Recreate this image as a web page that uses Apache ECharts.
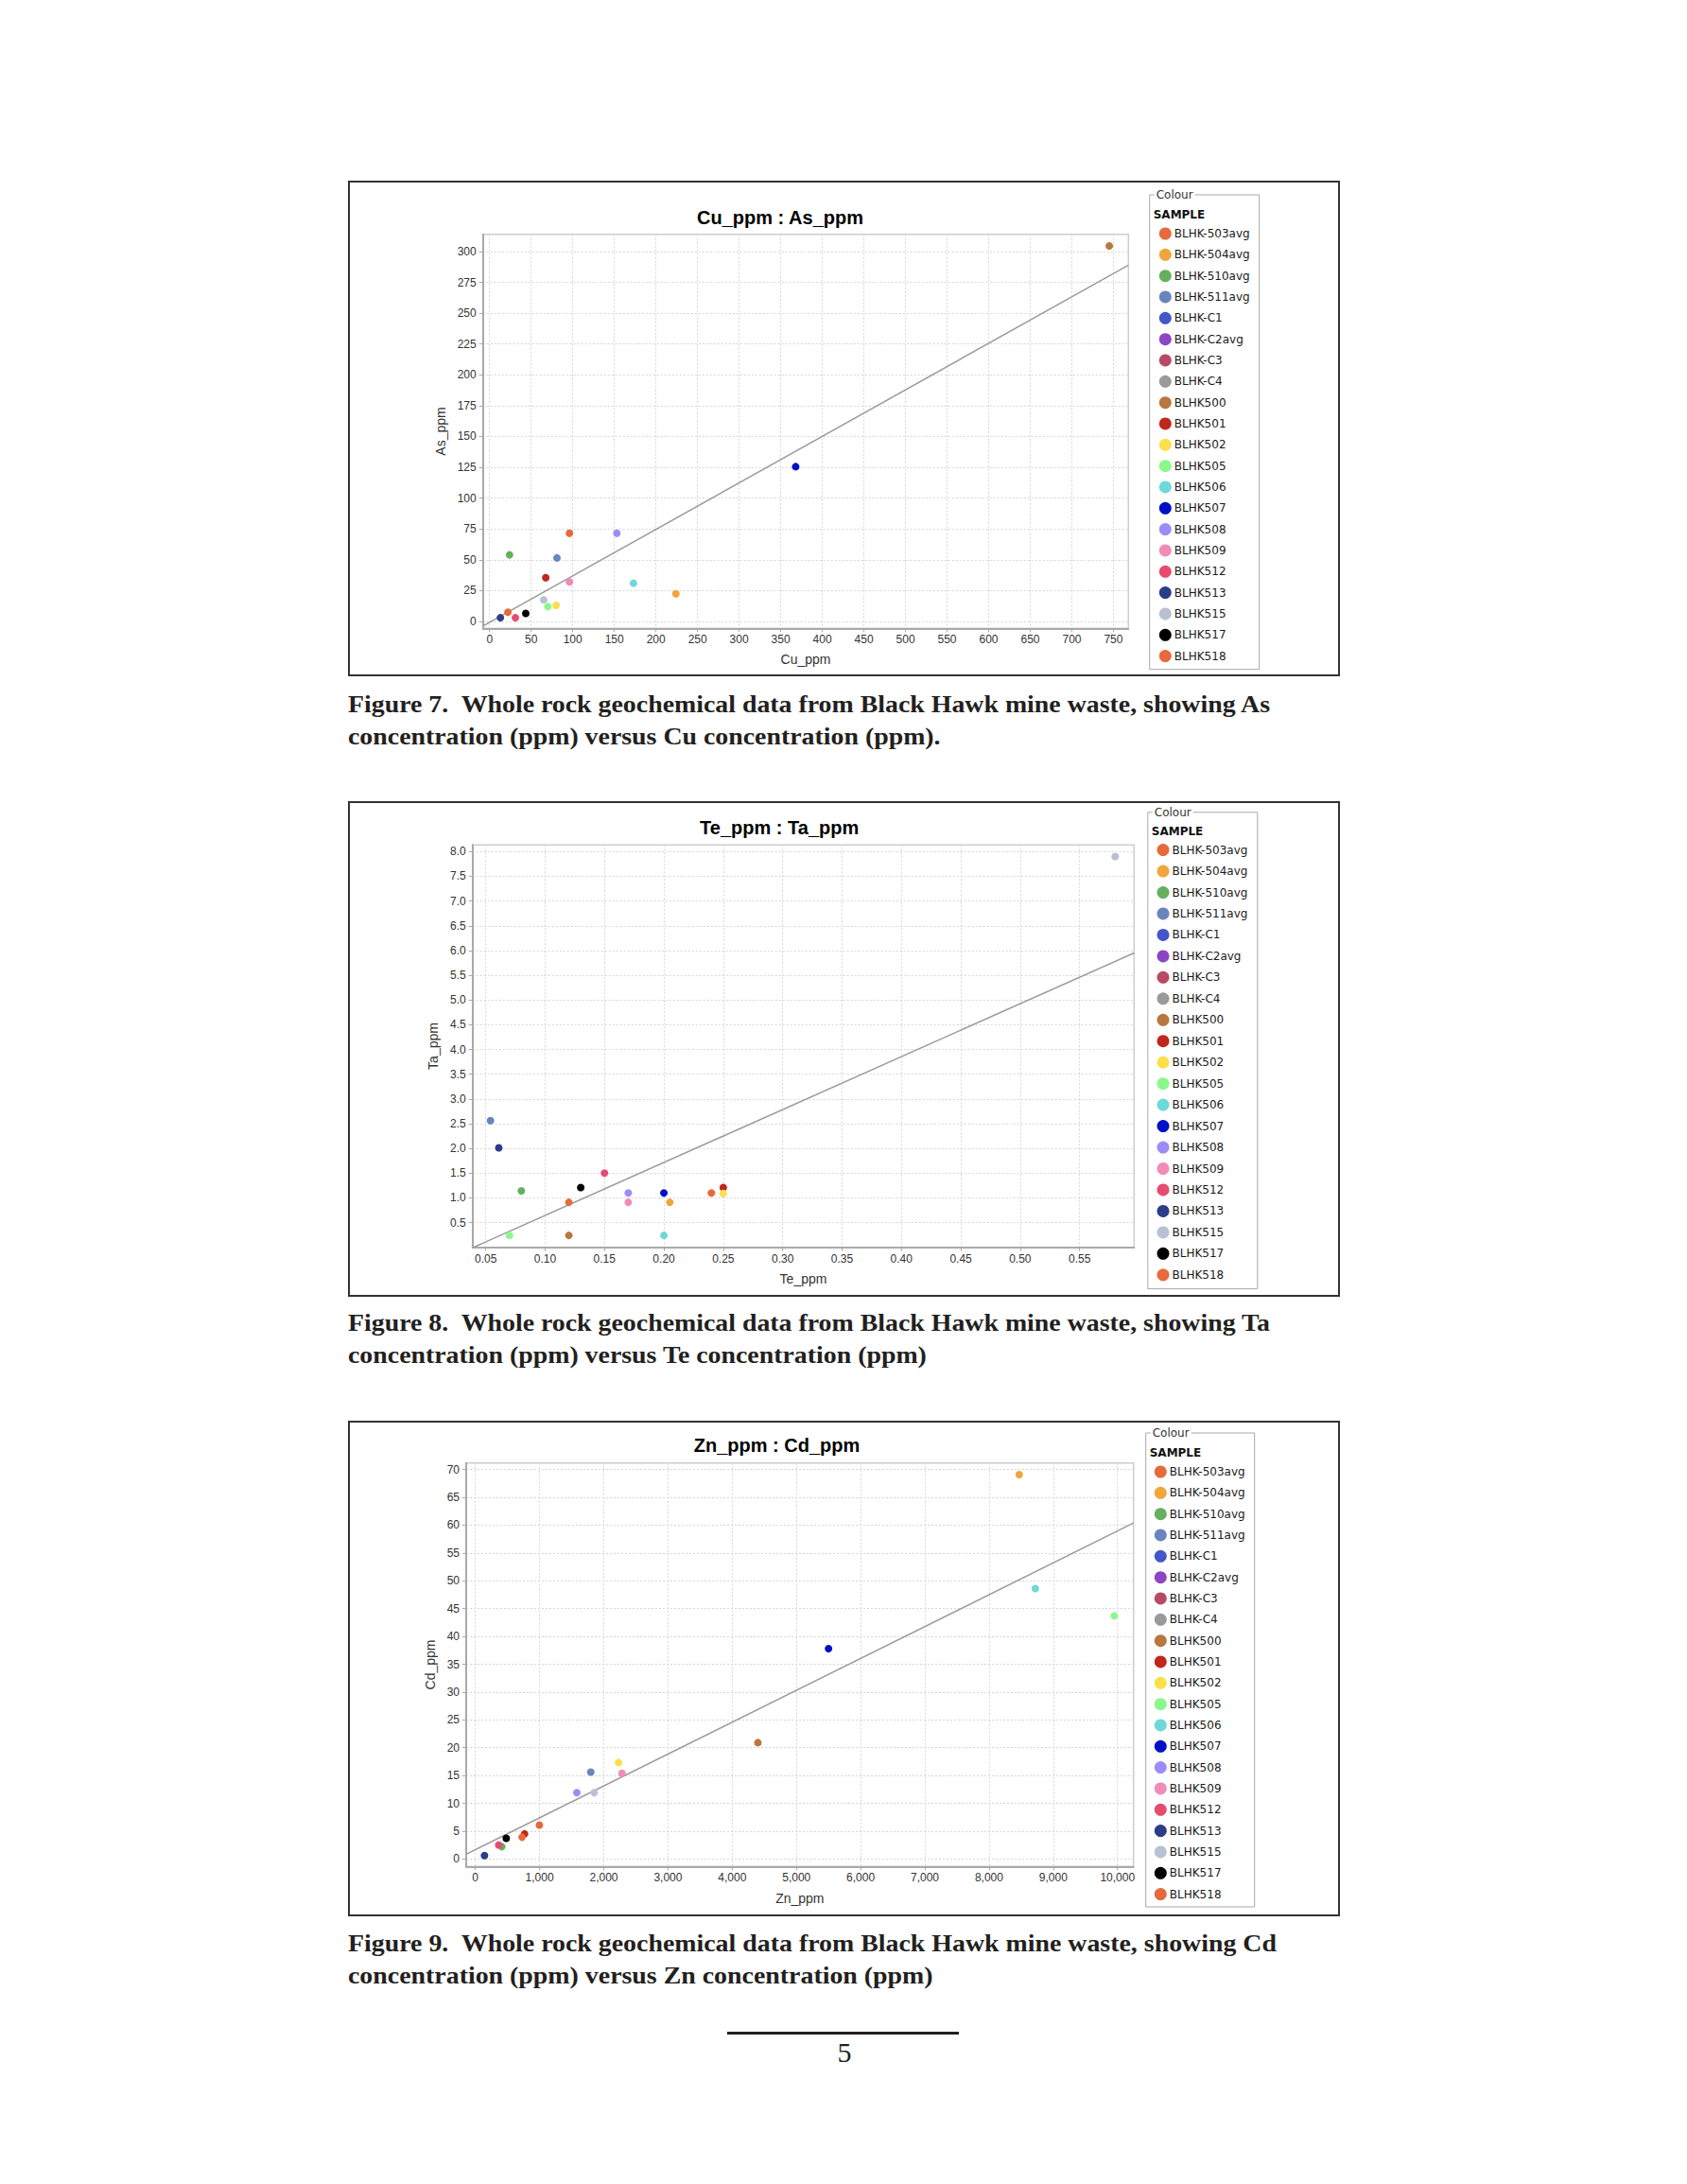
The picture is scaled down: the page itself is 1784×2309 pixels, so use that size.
<!DOCTYPE html>
<html><head><meta charset="utf-8">
<script src="https://cdn.jsdelivr.net/npm/echarts@6/dist/echarts.min.js"></script>
<style>
html,body{margin:0;padding:0;background:#fff}
body{width:1784px;height:2309px;position:relative;overflow:hidden}
.chart{position:absolute;left:368px;width:1049px;height:524px}
.box{position:absolute;left:368px;width:1049px;height:524px;box-sizing:border-box;border:2px solid #333;pointer-events:none}
.cap{position:absolute;left:368px;font-family:"Liberation Serif","DejaVu Serif",serif;font-weight:bold;font-size:25px;line-height:34px;white-space:nowrap;color:#231f20;transform-origin:0 50%}
#rule{position:absolute;left:769px;top:2148px;width:245px;height:3px;background:#231f20}
#pno{position:absolute;left:843px;width:100px;top:2152px;text-align:center;font-family:"Liberation Serif",serif;font-size:30px;line-height:36px;color:#231f20}
</style></head><body>
<div id="c1" class="chart" style="top:191px"></div><div class="box" style="top:191px"></div>
<div id="c2" class="chart" style="top:847px"></div><div class="box" style="top:847px"></div>
<div id="c3" class="chart" style="top:1502px"></div><div class="box" style="top:1502px"></div>

<div class="cap" id="f7a" style="top:728px">Figure 7.&nbsp; Whole rock geochemical data from Black Hawk mine waste, showing As</div>
<div class="cap" id="f7b" style="top:762px">concentration (ppm) versus Cu concentration (ppm).</div>
<div class="cap" id="f8a" style="top:1382px">Figure 8.&nbsp; Whole rock geochemical data from Black Hawk mine waste, showing Ta</div>
<div class="cap" id="f8b" style="top:1416px">concentration (ppm) versus Te concentration (ppm)</div>
<div class="cap" id="f9a" style="top:2038px">Figure 9.&nbsp; Whole rock geochemical data from Black Hawk mine waste, showing Cd</div>
<div class="cap" id="f9b" style="top:2072px">concentration (ppm) versus Zn concentration (ppm)</div>
<div id="rule"></div><div id="pno">5</div>

<script>
// ---- samples / legend ----
const samples = ['BLHK-503avg','BLHK-504avg','BLHK-510avg','BLHK-511avg','BLHK-C1','BLHK-C2avg','BLHK-C3','BLHK-C4','BLHK500','BLHK501','BLHK502','BLHK505','BLHK506','BLHK507','BLHK508','BLHK509','BLHK512','BLHK513','BLHK515','BLHK517','BLHK518'];
const sampleColours = ['#e66a3c','#f0a63c','#64b05e','#6a84c0','#4457c8','#8d45c4','#b84a66','#9a9a9a','#b8773f','#c0261c','#fbe04c','#8cf88c','#6ed8d8','#0010c8','#9c8cf8','#f08cb8','#e84a70','#2b3c88','#b8c0d4','#000000','#e66a3c'];

// ---- Figure 7: Cu vs As ----
const cuPpm = [96, 224, 24, 81, null, null, null, null, 745, 67.5, 80, 70, 173, 368, 153, 96, 31, 13, 65, 43.5, 22];
const asPpm = [71.5, 22.5, 54, 51.5, null, null, null, null, 304.5, 35.5, 13, 12, 31, 125.5, 71.5, 32, 3, 3, 17.5, 6.5, 7.5];
const cuTicks = [0,50,100,150,200,250,300,350,400,450,500,550,600,650,700,750];
const asTicks = [0,25,50,75,100,125,150,175,200,225,250,275,300];
const cuRange = [-8, 768];
const asRange = [-5.6, 314];
const fit7X = [-8, 768];
const fit7Y = [-3.8, 289.0];

// ---- Figure 8: Te vs Ta ----
const tePpm = [0.24, 0.205, 0.08, 0.054, null, null, null, null, 0.12, 0.25, 0.25, 0.07, 0.20, 0.20, 0.17, 0.17, 0.15, 0.061, 0.58, 0.13, 0.12];
const taPpm = [1.10, 0.91, 1.14, 2.56, null, null, null, null, 0.24, 1.21, 1.09, 0.24, 0.24, 1.10, 1.10, 0.91, 1.50, 2.01, 7.90, 1.21, 0.91];
const teTicks = [0.05,0.10,0.15,0.20,0.25,0.30,0.35,0.40,0.45,0.50,0.55];
const taTicks = [0.5,1.0,1.5,2.0,2.5,3.0,3.5,4.0,4.5,5.0,5.5,6.0,6.5,7.0,7.5,8.0];
const teRange = [0.0389, 0.5959];
const taRange = [0, 8.134];
const fit8X = [0.0397, 0.5959];
const fit8Y = [0, 5.95];

// ---- Figure 9: Zn vs Cd ----
const znPpm = [997, 8470, 412, 1797, null, null, null, null, 4400, 766, 2230, 9950, 8720, 5500, 1580, 2283, 363, 142, 1850, 481, 727];
const cdPpm = [6.1, 69.1, 2.2, 15.6, null, null, null, null, 20.9, 4.5, 17.3, 43.7, 48.6, 37.8, 11.9, 15.4, 2.5, 0.6, 11.9, 3.7, 3.9];
const znTicks = [0,1000,2000,3000,4000,5000,6000,7000,8000,9000,10000];
const cdTicks = [0,5,10,15,20,25,30,35,40,45,50,55,60,65,70];
const znRange = [-143, 10250];
const cdRange = [-1.36, 71.19];
const fit9X = [-143, 10250];
const fit9Y = [0.85, 60.4];

const SANS = '"Liberation Sans", Arial, sans-serif';
const LEG = '"DejaVu Sans", sans-serif';

function axis(cfg, which){
  const isX = which === 'x';
  return {
    type:'value',
    min: cfg.range[0], max: cfg.range[1],
    name: cfg.name, nameLocation:'middle', nameGap: cfg.nameGap,
    nameTextStyle:{fontSize:14, color:'#333', fontFamily:SANS},
    axisLine:{show:true, onZero:false, lineStyle:{color:'#a9a9a9', width:2}},
    axisTick:{show:true, length:4, customValues:cfg.ticks, lineStyle:{color:'#a9a9a9', width:1}},
    axisLabel:{customValues:cfg.ticks, formatter:cfg.fmt, fontSize:12, color:'#333', fontFamily:SANS, margin: isX ? 6 : 7},
    splitLine:{show:true, lineStyle:{color:'#d6d6d6', width:1, type:[2,2]}}
  };
}

function build(id, c){
  const chart = echarts.init(document.getElementById(id), null, {renderer:'svg'});
  const series = [{
    type:'line', name:'fit', silent:true, symbol:'none', z:2,
    data: c.fitX.map((x,k)=>[x, c.fitY[k]]),
    lineStyle:{color:'#9b9b9b', width:1.5}, animation:false
  }];
  samples.forEach((name,i)=>{
    series.push({
      type:'scatter', name, symbol:'circle', symbolSize:8, z:3,
      itemStyle:{color:sampleColours[i], opacity:1},
      data: c.xs[i]==null ? [] : [[c.xs[i], c.ys[i]]],
      animation:false
    });
  });
  const L = c.leg;
  chart.setOption({
    animation:false,
    grid:{left:c.grid[0], top:c.grid[1], width:c.grid[2], height:c.grid[3], show:true, borderColor:'#cdcdcd', borderWidth:1.5, containLabel:false},
    xAxis: axis(c.x,'x'),
    yAxis: axis(c.y,'y'),
    legend:{
      data:samples, orient:'vertical', left:L.cx-6.5, top:L.cy-6.5, padding:0,
      itemWidth:13, itemHeight:13, itemGap:L.gap-13, icon:'circle', selectedMode:false,
      textStyle:{fontSize:12, fontFamily:LEG, color:'#1a1a1a', lineHeight:13, padding:[0,0,0,-2]}
    },
    graphic:[
      {type:'text', x:c.title[0], y:c.title[1], style:{text:c.titleText, font:'bold 20px '+SANS, fill:'#000', textAlign:'center', textVerticalAlign:'middle', align:'center', verticalAlign:'middle'}},
      {type:'rect', shape:{x:L.box[0], y:L.box[1], width:L.box[2], height:L.box[3]}, style:{fill:'none', stroke:'#a9a9a9', lineWidth:1}},
      {type:'text', x:L.box[0]+5, y:L.box[1], style:{text:'Colour', font:'12px '+LEG, fill:'#333', textVerticalAlign:'middle', verticalAlign:'middle', backgroundColor:'#fff', padding:[0,2,0,2]}},
      {type:'text', x:L.box[0]+4, y:L.box[1]+20.5, style:{text:'SAMPLE', font:'bold 12px '+LEG, fill:'#111', textVerticalAlign:'middle', verticalAlign:'middle'}}
    ],
    series
  });
}

build('c1', {
  xs:cuPpm, ys:asPpm, fitX:fit7X, fitY:fit7Y,
  grid:[142.7, 56.7, 682.6, 416.6],
  x:{range:cuRange, ticks:cuTicks, name:'Cu_ppm', nameGap:26, fmt:v=>String(v)},
  y:{range:asRange, ticks:asTicks, name:'As_ppm', nameGap:34, fmt:v=>String(v)},
  title:[457, 39.3], titleText:'Cu_ppm : As_ppm',
  leg:{cx:864.3, cy:56, gap:22.33, box:[847.7, 15, 116, 501.7]}
});
build('c2', {
  xs:tePpm, ys:taPpm, fitX:fit8X, fitY:fit8Y,
  grid:[131.7, 46.3, 699.6, 425.4],
  x:{range:teRange, ticks:teTicks, name:'Te_ppm', nameGap:26, fmt:v=>v.toFixed(2)},
  y:{range:taRange, ticks:taTicks, name:'Ta_ppm', nameGap:31, fmt:v=>v.toFixed(1)},
  title:[456.2, 28.3], titleText:'Te_ppm : Ta_ppm',
  leg:{cx:862, cy:51.6, gap:22.46, box:[845.8, 11.8, 116, 503.8]}
});
build('c3', {
  xs:znPpm, ys:cdPpm, fitX:fit9X, fitY:fit9Y,
  grid:[125, 44.7, 705.7, 426.6],
  x:{range:znRange, ticks:znTicks, name:'Zn_ppm', nameGap:27, fmt:v=>v.toLocaleString('en-US')},
  y:{range:cdRange, ticks:cdTicks, name:'Cd_ppm', nameGap:27, fmt:v=>String(v)},
  title:[453.5, 26.3], titleText:'Zn_ppm : Cd_ppm',
  leg:{cx:859.3, cy:54, gap:22.33, box:[843.7, 13, 115, 501]}
});

// fit caption widths to the page's measure
[['f7a','f7b',975],['f8a','f8b',975],['f9a','f9b',982]].forEach(([a,b,w])=>{
  const ea=document.getElementById(a), eb=document.getElementById(b);
  const s = w / ea.getBoundingClientRect().width;
  ea.style.transform = 'scaleX('+s+')';
  eb.style.transform = 'scaleX('+s+')';
});
</script>
</body></html>
